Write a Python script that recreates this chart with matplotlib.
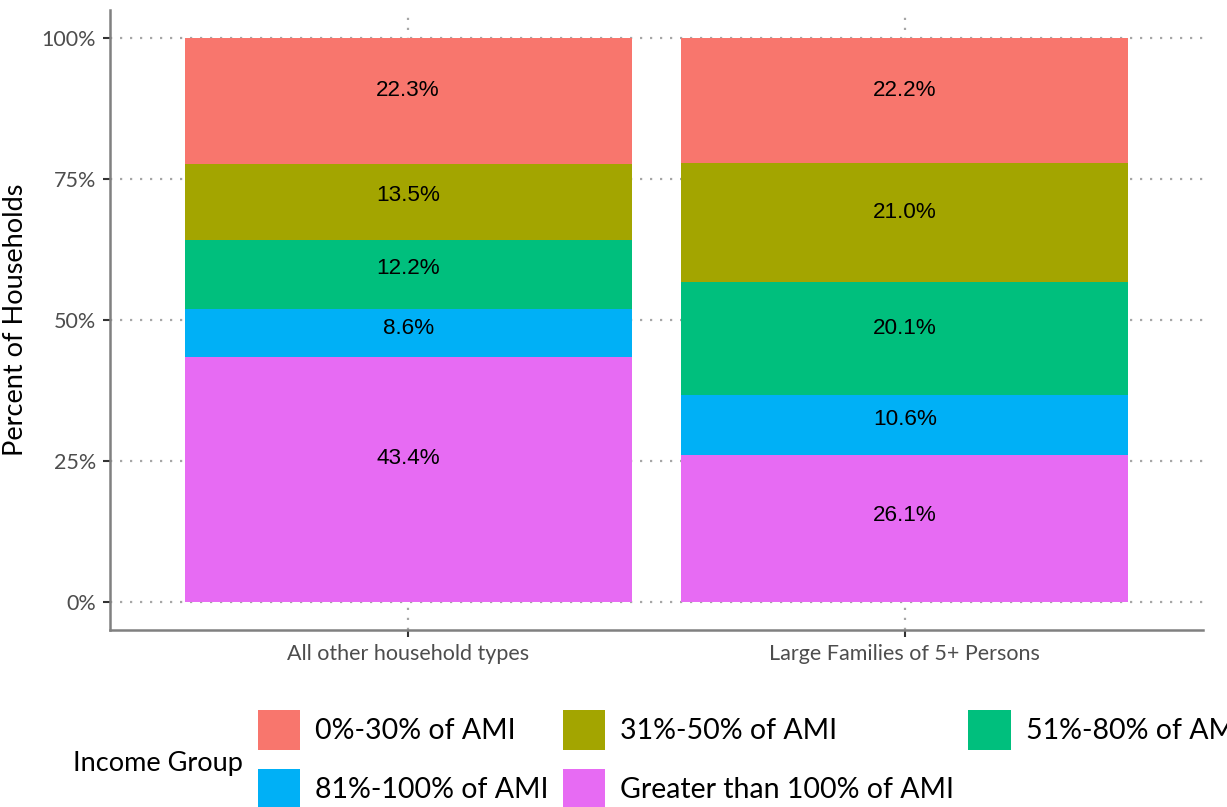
import numpy as np
import matplotlib.pyplot as plt
from matplotlib.patches import Patch

# chart data
categories = ["All other household types", "Large Families of 5+ Persons"]
groups = ["0%-30% of AMI", "31%-50% of AMI", "51%-80% of AMI",
          "81%-100% of AMI", "Greater than 100% of AMI"]
colors = ["#F8766D", "#A3A500", "#00BF7D", "#00B0F6", "#E76BF3"]
shares_other = [22.3, 13.5, 12.2, 8.6, 43.4]
shares_large = [22.2, 21.0, 20.1, 10.6, 26.1]
yticks = [0, 25, 50, 75, 100]
ytick_labels = ["0%", "25%", "50%", "75%", "100%"]

label_font = "Lato"
LABEL_FRAC = 0.585  # where the value labels sit inside each segment

fig = plt.figure(figsize=(12.27, 8.07), dpi=100)
ax = fig.add_axes([110 / 1227, 177 / 807, 1093 / 1227, 620 / 807])

x = np.arange(1, len(categories) + 1)
data = np.array([shares_other, shares_large]).T  # rows = groups

# stack from the last group upwards
bottom = np.zeros(len(categories))
for i in range(len(groups) - 1, -1, -1):
    vals = data[i]
    ax.bar(x, vals, width=0.9, bottom=bottom, color=colors[i], zorder=2)
    for xi, b, v in zip(x, bottom, vals):
        ax.text(xi, b + LABEL_FRAC * v, f"{v:.1f}%", ha="center", va="center",
                fontsize=16.2, family="Liberation Sans", color="black", zorder=3)
    bottom = bottom + vals

ax.set_xlim(0.4, 2.6)
ax.set_ylim(-5, 105)
ax.set_xticks(x)
ax.set_xticklabels(categories, family=label_font, fontsize=15.5, color="#4d4d4d")
ax.set_yticks(yticks)
ax.set_yticklabels(ytick_labels, family=label_font, fontsize=15.5, color="#4d4d4d")
ax.set_ylabel("Percent of Households", family=label_font, fontsize=19.5, labelpad=10)

ax.grid(True, linestyle=(0, (1, 3.5)), color="#a6a6a6", linewidth=1.6, zorder=0)
ax.set_axisbelow(True)
for s in ["top", "right"]:
    ax.spines[s].set_visible(False)
for s in ["left", "bottom"]:
    ax.spines[s].set_color("#808080")
    ax.spines[s].set_linewidth(1.8)
ax.tick_params(axis="both", length=5, width=1.5, color="#333333", pad=5)

# legend, filled row by row (runs past the right edge like the original)
handles = [Patch(facecolor=c) for c in colors]
order = [0, 3, 1, 4, 2]
fig.legend([handles[k] for k in order], [groups[k] for k in order],
           ncol=3, frameon=False, loc="upper left",
           bbox_to_anchor=(258 / 1227, 1 - 710 / 807),
           prop={"family": label_font, "size": 20.5},
           handlelength=1.48, handleheight=1.76, handletextpad=0.53,
           labelspacing=0.67, columnspacing=0.5, borderpad=0, borderaxespad=0)
fig.text(73 / 1227, 1 - 763 / 807, "Income Group", family=label_font,
         fontsize=19.5, va="center", ha="left")

fig.savefig("out.png", dpi=100)
